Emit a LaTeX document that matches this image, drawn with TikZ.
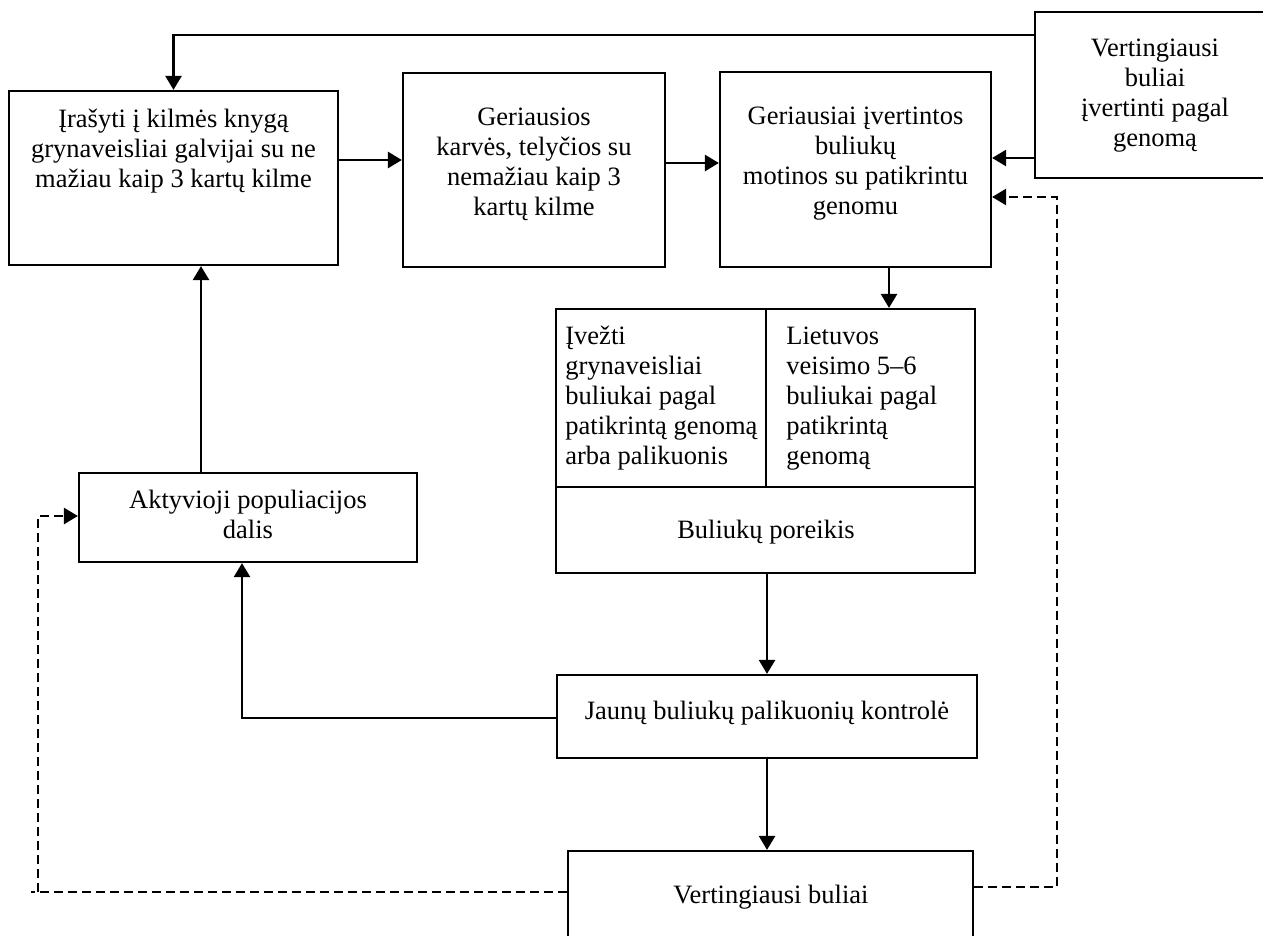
\documentclass[tikz,border=0pt]{standalone}
\usepackage{fontspec}
\setmainfont{Liberation Serif}
\usetikzlibrary{arrows.meta,fit}
\newcommand\mylines[2]{\begin{tabular}[t]{@{}#1@{}}#2\end{tabular}}
\tikzset{
  box/.style={draw, line width=1.1pt, inner sep=0pt},
  lbl/.style={inner sep=0pt, font=\fontsize{13.25pt}{15pt}\selectfont},
  arr/.style={line width=1.3pt, -{Triangle[length=7pt,width=8pt]}},
  plain/.style={line width=1.1pt},
  dsh/.style={line width=1.1pt, dash pattern=on 4.5pt off 2.5pt},
}
\begin{document}
\begin{tikzpicture}[x=0.5pt,y=-0.5pt]
\clip (0,0) rectangle (1263,936);
\fill[white] (0,0) rectangle (1263,936);

% boxes
\node[box, fit={(9,91) (338,265)}] (A) {};
\node[box, fit={(403,73) (665,267)}] (B) {};
\node[box, fit={(720,72) (991,267)}] (C) {};
\node[box, fit={(1035,12) (1280,178)}] (V1) {};
\node[box, fit={(556,309) (766,487)}] (D1) {};
\node[box, fit={(766,309) (975,487)}] (D2) {};
\node[box, fit={(556,487) (975,573)}] (D3) {};
\node[box, fit={(79,473) (417,562)}] (E) {};
\node[box, fit={(557,675) (977,758)}] (J) {};
\node[box, fit={(568,851) (973,960)}] (V2) {};

% texts
\node[lbl, anchor=base] (tA) at (173.5,128) {\mylines{c}{Įrašyti į kilmės knygą\\grynaveisliai galvijai su ne\\mažiau kaip 3 kartų kilme}};
\node[lbl, anchor=base] (tB) at (534,126) {\mylines{c}{Geriausios\\karvės, telyčios su\\nemažiau kaip 3\\kartų kilme}};
\node[lbl, anchor=base] (tC) at (855.5,125) {\mylines{c}{Geriausiai įvertintos\\buliukų\\motinos su patikrintu\\genomu}};
\node[lbl, anchor=base] (tV1) at (1155,57) {\mylines{c}{Vertingiausi\\buliai\\įvertinti pagal\\genomą}};
\node[lbl, anchor=base west] (tD1) at (565,344) {\mylines{l}{Įvežti\\grynaveisliai\\buliukai pagal\\patikrintą genomą\\arba palikuonis}};
\node[lbl, anchor=base west] (tD2) at (786,344) {\mylines{l}{Lietuvos\\veisimo 5–6\\buliukai pagal\\patikrintą\\genomą}};
\node[lbl, anchor=base] (tD3) at (766,538) {Buliukų poreikis};
\node[lbl, anchor=base] (tE) at (248,508) {\mylines{c}{Aktyvioji populiacijos\\dalis}};
\node[lbl, anchor=base] (tJ) at (767,719) {Jaunų buliukų palikuonių kontrolė};
\node[lbl, anchor=base] (tV2) at (771,903) {Vertingiausi buliai};

% helper coordinates
\coordinate (ytop) at (0,35);
\coordinate (yab) at (0,160);
\coordinate (ybc) at (0,163);
\coordinate (yv1) at (0,158);
\coordinate (ydc) at (0,197);
\coordinate (xcd) at (889,0);
\coordinate (xdj) at (767,0);
\coordinate (yj) at (0,718);
\coordinate (xje) at (242,0);
\coordinate (xea) at (201,0);
\coordinate (yde) at (0,516);
\coordinate (yvl) at (0,892);
\coordinate (yvr) at (0,887);
\coordinate (dl1) at (31,892);
\coordinate (dl2) at (38,892);
\coordinate (dr1) at (1057,887);

% solid connectors
\draw[arr] (V1.west |- ytop) -| (A.north);
\draw[arr] (A.east |- yab) -- (B.west |- yab);
\draw[arr] (B.east |- ybc) -- (C.west |- ybc);
\draw[arr] (V1.west |- yv1) -- (C.east |- yv1);
\draw[arr] (C.south -| xcd) -- (D2.north -| xcd);
\draw[arr] (D3.south -| xdj) -- (J.north -| xdj);
\draw[arr] (J.south -| xdj) -- (V2.north -| xdj);
\draw[arr] (J.west |- yj) -| (E.south -| xje);
\draw[arr] (E.north -| xea) -- (A.south -| xea);

% dashed connectors
\draw[dsh] (V2.west |- yvl) -- (dl1);
\draw[dsh, arr] (dl2) |- (E.west |- yde);
\draw[dsh, arr] (V2.east |- yvr) -- (dr1) |- (C.east |- ydc);
\end{tikzpicture}
\end{document}
